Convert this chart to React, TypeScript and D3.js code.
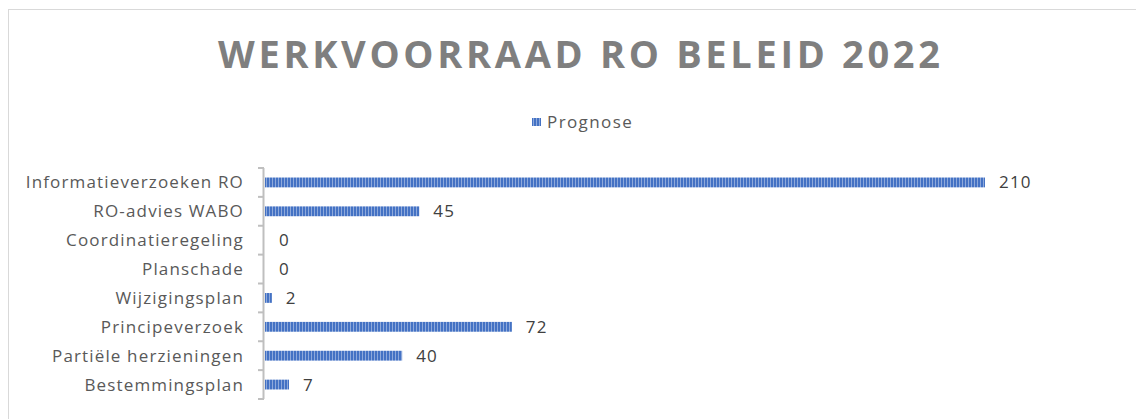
import React from "react";
import * as d3 from "d3";

const categories = [
  "Informatieverzoeken RO",
  "RO-advies WABO",
  "Coordinatieregeling",
  "Planschade",
  "Wijzigingsplan",
  "Principeverzoek",
  "Partiële herzieningen",
  "Bestemmingsplan",
];
const prognose = [210, 45, 0, 0, 2, 72, 40, 7];
const title = "WERKVOORRAAD RO BELEID 2022";
const seriesName = "Prognose";

const W = 1136;
const H = 419;

export default function App() {
  const x = d3.scaleLinear().domain([0, 210]).range([265, 985]);
  const y = d3.scaleBand<string>().domain(categories).range([168, 399]).paddingInner(0.66).paddingOuter(0.33);
  const step = y.step();
  const font = "'Open Sans', sans-serif";
  const boundaries = d3.range(categories.length + 1).map((i) => 168 + i * step);

  return (
    <svg width={W} height={H} style={{ position: "absolute", left: 0, top: 0, display: "block" }}>
      <defs>
        <pattern id="stripes" width={3} height={4} patternUnits="userSpaceOnUse">
          <rect x={0} y={0} width={3} height={4} fill="#4472C4" />
          <rect x={2} y={0} width={1} height={4} fill="#8EA9DB" />
        </pattern>
      </defs>
      <rect x={0} y={0} width={W} height={H} fill="#fff" />
      <rect x={8.5} y={9.5} width={W + 10} height={H + 10} fill="none" stroke="#D9D9D9" strokeWidth={1} />
      <text
        x={579}
        y={68}
        textAnchor="middle"
        fontFamily={font}
        fontWeight={700}
        fontSize={38}
        fill="#7F7F7F"
        textLength={722}
        lengthAdjust="spacing"
      >
        {title}
      </text>
      <rect x={532} y={118} width={9} height={8} fill="url(#stripes)" />
      <text x={547} y={128} fontFamily={font} fontSize={17} letterSpacing={1.4} fill="#595959">
        {seriesName}
      </text>
      {/* axis */}
      <line x1={263.5} x2={263.5} y1={168} y2={399} stroke="#BFBFBF" strokeWidth={2} />
      {boundaries.map((b, i) => (
        <line key={i} x1={258} x2={264} y1={b} y2={b} stroke="#BFBFBF" strokeWidth={2} />
      ))}
      {categories.map((c, i) => {
        const yc = (y(c) as number) + y.bandwidth() / 2;
        const v = prognose[i];
        return (
          <g key={c}>
            <text x={244} y={yc + 6} textAnchor="end" fontFamily={font} fontSize={17} letterSpacing={1.15} fill="#595959">
              {c}
            </text>
            {v > 0 && (
              <rect x={x(0)} y={y(c)} width={x(v) - x(0)} height={y.bandwidth()} fill="url(#stripes)" />
            )}
            <text x={x(v) + 14} y={yc + 6} fontFamily={font} fontSize={17} letterSpacing={1.2} fill="#404040">
              {v}
            </text>
          </g>
        );
      })}
    </svg>
  );
}
